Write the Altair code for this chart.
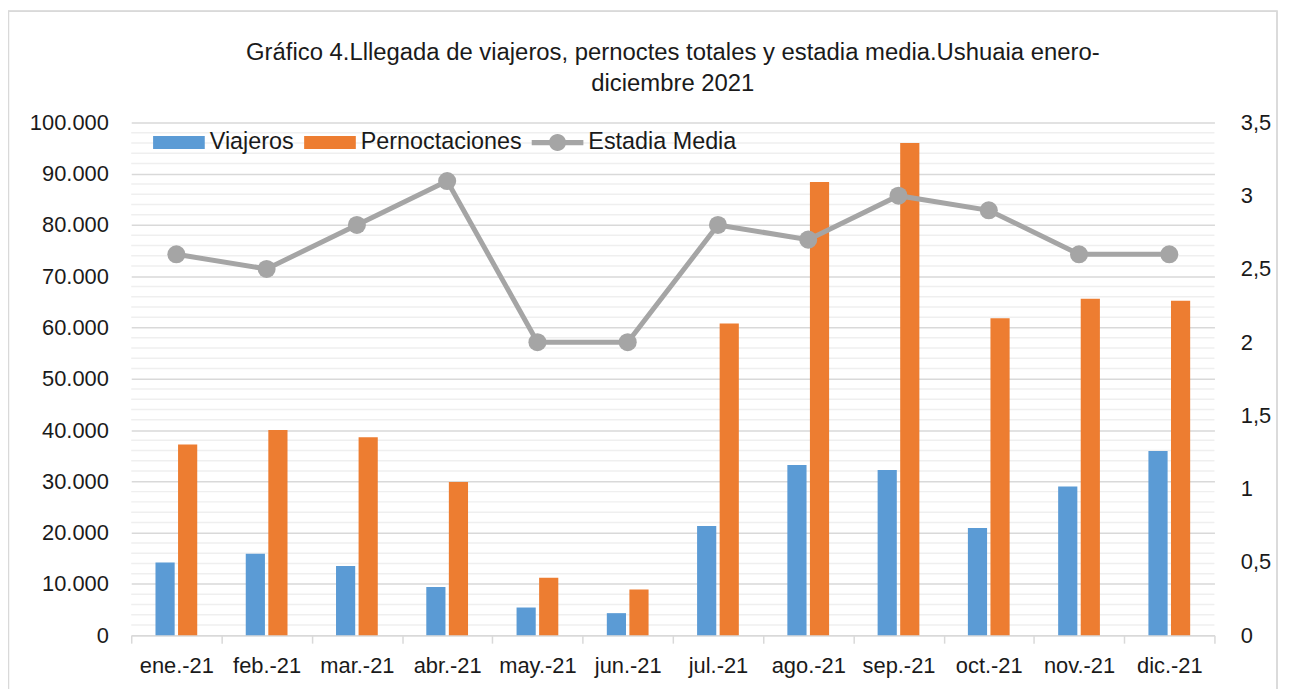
import altair as alt
import pandas as pd

meses = ["ene.-21", "feb.-21", "mar.-21", "abr.-21", "may.-21", "jun.-21",
         "jul.-21", "ago.-21", "sep.-21", "oct.-21", "nov.-21", "dic.-21"]
viajeros = [14200, 15900, 13500, 9400, 5400, 4300, 21300, 33200, 32200, 20900, 29000, 35900]
pernoctaciones = [37200, 40000, 38600, 29900, 11200, 8900, 60800, 88400, 96000, 61800, 65600, 65200]
estadia = [2.6, 2.5, 2.8, 3.1, 2.0, 2.0, 2.8, 2.7, 3.0, 2.9, 2.6, 2.6]

series = ["Viajeros", "Pernoctaciones", "Estadia Media"]
colores = ["#5b9bd5", "#ed7d31", "#a5a5a5"]
simbolos = [
    "M-1,-0.25H1V0.25H-1Z",
    "M-1,-0.25H1V0.25H-1Z",
    "M-1,-0.1H1V0.1H-1Z M0.33,0A0.33,0.33 0 1,1 -0.33,0A0.33,0.33 0 1,1 0.33,0Z",
]
left_ticks = list(range(0, 100001, 10000))
minor_ticks = [v for v in range(0, 100001, 2000) if v % 10000 != 0]
right_ticks = [0, 0.5, 1, 1.5, 2, 2.5, 3, 3.5]

FONT = "Liberation Sans"
TXT = "#1a1a1a"
FS = 22

bars_df = pd.DataFrame(
    [{"mes": m, "serie": "Viajeros", "valor": v} for m, v in zip(meses, viajeros)]
    + [{"mes": m, "serie": "Pernoctaciones", "valor": v} for m, v in zip(meses, pernoctaciones)]
)
line_df = pd.DataFrame({"mes": meses, "estadia": estadia})
minor_df = pd.DataFrame({"g": minor_ticks})
legend_df = pd.DataFrame({"serie": series})

x_enc = alt.X("mes:N", sort=meses, title=None,
              scale=alt.Scale(paddingInner=0, paddingOuter=0),
              axis=alt.Axis(tickBand="extent", labelAngle=0, labelFont=FONT,
                            labelFontSize=FS, labelColor=TXT, labelPadding=13,
                            domainColor="#d9d9d9", domainWidth=1.5,
                            tickColor="#d9d9d9", tickWidth=1.5, tickSize=8,
                            grid=False))

y_left_scale = alt.Scale(domain=[0, 100000], nice=False)
y_left_axis = alt.Axis(values=left_ticks, domain=False, ticks=False,
                       labelFont=FONT, labelFontSize=FS, labelColor=TXT,
                       labelPadding=23, gridColor="#d9d9d9", gridWidth=1.5,
                       labelExpr="replace(format(datum.value, ','), ',', '.')")

legend = alt.Legend(title=None, orient="none", legendX=22, legendY=-6,
                    direction="horizontal", labelFont=FONT, labelFontSize=23.5,
                    labelColor=TXT, labelLimit=400, symbolSize=2704, symbolOpacity=1,
                    symbolStrokeWidth=0, labelOffset=5, columnPadding=10,
                    padding=0)
color_enc = alt.Color("serie:N", scale=alt.Scale(domain=series, range=colores),
                      legend=legend)

minor = alt.Chart(minor_df).mark_rule(color="#efefef", strokeWidth=1.5).encode(
    y=alt.Y("g:Q", scale=y_left_scale, title=None, axis=y_left_axis)
)

bars = alt.Chart(bars_df).mark_bar(width=19.3).encode(
    x=x_enc,
    xOffset=alt.XOffset("serie:N", scale=alt.Scale(domain=series[:2], paddingInner=0, paddingOuter=1)),
    y=alt.Y("valor:Q", scale=y_left_scale, title=None, axis=y_left_axis),
    color=color_enc,
)

legend_layer = alt.Chart(legend_df).mark_point(filled=True, opacity=0).encode(
    color=color_enc,
    shape=alt.Shape("serie:N", scale=alt.Scale(domain=series, range=simbolos), legend=legend),
)

frame = alt.Chart(legend_df).mark_rect(fill=None, stroke="#d9d9d9", strokeWidth=1.2).encode(
    x=alt.value(-123.5), x2=alt.value(1153), y=alt.value(-112), y2=alt.value(620)
)

left = alt.layer(minor, bars, legend_layer)

y_right = alt.Y("estadia:Q", scale=alt.Scale(domain=[0, 3.5], nice=False), title=None,
                axis=alt.Axis(values=right_ticks, domain=False, ticks=False, grid=False,
                              orient="right", labelFont=FONT, labelFontSize=FS,
                              labelColor=TXT, labelPadding=26,
                              labelExpr="replace(toString(datum.value), '.', ',')"))
line = alt.Chart(line_df).mark_line(color="#a5a5a5", strokeWidth=5).encode(x=x_enc, y=y_right)
pts = alt.Chart(line_df).mark_point(filled=True, color="#a5a5a5", opacity=1, size=330).encode(x=x_enc, y=y_right)
right = alt.layer(line, pts)

chart = alt.layer(left, right, frame).resolve_scale(y="independent").properties(
    width=1090, height=516,
    padding={"left": 124, "top": 113, "right": 69, "bottom": 52},
    autosize=alt.AutoSizeParams(type="none"),
    title=alt.Title(
        ["Gráfico 4.Lllegada de viajeros, pernoctes totales y estadia media.Ushuaia enero-",
         "diciembre 2021"],
        font=FONT, fontSize=24, fontWeight="normal", color=TXT, lineHeight=31,
        anchor="middle", frame="group", offset=0, dy=86),
).configure_view(stroke=None)

chart.save("out.html", embed_options={"renderer": "svg", "actions": False})
